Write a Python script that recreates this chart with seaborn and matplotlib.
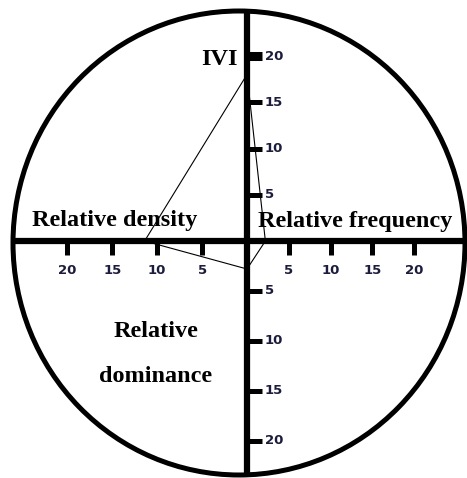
import numpy as np
import pandas as pd
import matplotlib
matplotlib.use('Agg')
import matplotlib.pyplot as plt
from matplotlib.patches import Ellipse
import seaborn as sns

# Data
axis_names = ['IVI', 'Relative frequency', 'Relative dominance', 'Relative density']
tick_values = [5, 10, 15, 20]
tick_labels = ['5', '10', '15', '20']
# values on each axis: IVI (up), frequency (right), dominance (down), density (left)
point_values = [18.0, 2.2, 2.8, 11.4]

# drawing scale (pixels per unit) for each axis, the original is hand drawn
scale = {'IVI': 9.25, 'Relative frequency': 8.35, 'Relative dominance': 10.0, 'Relative density': 8.98}
direction = {'IVI': (0, 1), 'Relative frequency': (1, 0),
             'Relative dominance': (0, -1), 'Relative density': (-1, 0)}

sns.set_style('white')
plt.rcParams['font.family'] = ['DejaVu Sans']

fig = plt.figure(figsize=(4.67, 4.78), dpi=100)
ax = fig.add_axes([0, 0, 1, 1])
ax.set_xlim(-247, 220)
ax.set_ylim(-237, 241)
ax.set_aspect('equal')
ax.axis('off')

# outer circle
ax.add_patch(Ellipse((-8, -2), 452, 464, fill=False, lw=3.6, color='black'))

# main axes
ax.plot([0, 0], [229, -235], color='black', lw=4.5, solid_capstyle='butt')
ax.plot([-234, 216], [0, 0], color='black', lw=4.5, solid_capstyle='butt')

tick_color = '#1c1c3c'
tick_font = dict(fontsize=9.5, fontweight='bold', color=tick_color, family='DejaVu Sans')

for name in axis_names:
    dx, dy = direction[name]
    for v, lab in zip(tick_values, tick_labels):
        p = v * scale[name]
        if dx == 0:
            y = dy * p
            lw = 6.5 if (name == 'IVI' and v == 20) else 3.6
            ax.plot([0, 15], [y, y], color='black', lw=lw, solid_capstyle='butt')
            ax.text(18, y, lab, ha='left', va='center', **tick_font)
        else:
            x = dx * p
            ax.plot([x, x], [0, -14], color='black', lw=3.6, solid_capstyle='butt')
            ax.text(x, -30, lab, ha='center', va='center', **tick_font)

# polygon through the four values
order = ['IVI', 'Relative density', 'Relative dominance', 'Relative frequency', 'IVI']
vals = dict(zip(axis_names, point_values))
poly = pd.DataFrame({
    'x': [direction[n][0] * vals[n] * scale[n] for n in order],
    'y': [direction[n][1] * vals[n] * scale[n] for n in order],
    'step': range(len(order)),
})
sns.lineplot(data=poly, x='x', y='y', sort=False, estimator=None, color='black', lw=0.8, ax=ax)
ax.set_xlabel('')
ax.set_ylabel('')
ax.axis('off')

# axis titles
title_font = dict(fontsize=17.5, fontweight='bold', color='black', family='Liberation Serif')
ax.text(-9, 176, 'IVI', ha='right', va='baseline', **title_font)
ax.text(-215, 15, 'Relative density', ha='left', va='baseline', **title_font)
ax.text(11, 14, 'Relative frequency', ha='left', va='baseline', **title_font)
ax.text(-91, -96, 'Relative', ha='center', va='baseline', **title_font)
ax.text(-91, -141, 'dominance', ha='center', va='baseline', **title_font)

fig.savefig('out.png', dpi=100)
